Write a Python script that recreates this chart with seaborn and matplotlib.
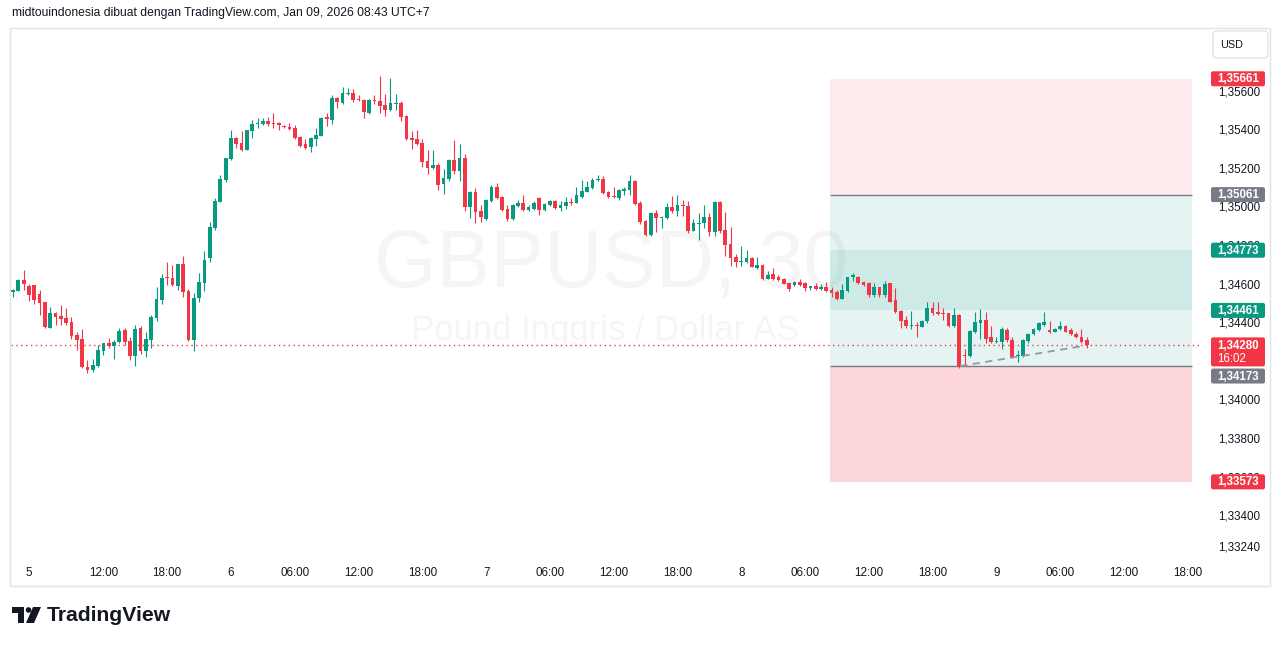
import matplotlib
matplotlib.use("Agg")
import matplotlib.pyplot as plt
import seaborn as sns
import numpy as np
import pandas as pd
from matplotlib.patches import Rectangle, FancyBboxPatch, Polygon, Circle

# GBPUSD 30 menit (open/high/low/close)
opens = [
    1.34559, 1.34564, 1.34619, 1.34588, 1.34593, 1.34546, 1.34505, 1.34370, 1.34449, 1.34432,
    1.34422, 1.34401, 1.34334, 1.34313, 1.34169, 1.34152, 1.34173, 1.34251, 1.34292, 1.34277,
    1.34298, 1.34360, 1.34303, 1.34225, 1.34370, 1.34251, 1.34308, 1.34422, 1.34515, 1.34634,
    1.34629, 1.34588, 1.34702, 1.34562, 1.34308, 1.34525, 1.34605, 1.34733, 1.34890, 1.35024,
    1.35138, 1.35244, 1.35354, 1.35328, 1.35292, 1.35392, 1.35428, 1.35427, 1.35442, 1.35433,
    1.35433, 1.35416, 1.35411, 1.35406, 1.35359, 1.35323, 1.35307, 1.35349, 1.35365, 1.35463,
    1.35447, 1.35561, 1.35535, 1.35581, 1.35587, 1.35556, 1.35551, 1.35484, 1.35551, 1.35546,
    1.35525, 1.35499, 1.35530, 1.35535, 1.35468, 1.35354, 1.35349, 1.35328, 1.35235, 1.35199,
    1.35214, 1.35116, 1.35142, 1.35240, 1.35183, 1.35250, 1.34997, 1.35075, 1.34976, 1.34935,
    1.35028, 1.35100, 1.35049, 1.34986, 1.34935, 1.35002, 1.35018, 1.34981, 1.34986, 1.35043,
    1.34981, 1.35007, 1.35028, 1.34992, 1.35002, 1.35023, 1.35018, 1.35049, 1.35075, 1.35095,
    1.35137, 1.35142, 1.35075, 1.35054, 1.35043, 1.35080, 1.35085, 1.35132, 1.35018, 1.34924,
    1.34852, 1.34967, 1.34941, 1.34941, 1.34997, 1.34977, 1.35008, 1.35002, 1.34873, 1.34910,
    1.34916, 1.34946, 1.34868, 1.35023, 1.34878, 1.34805, 1.34738, 1.34714, 1.34712, 1.34733,
    1.34681, 1.34696, 1.34625, 1.34649, 1.34634, 1.34624, 1.34603, 1.34594, 1.34608, 1.34603,
    1.34579, 1.34588, 1.34574, 1.34582, 1.34569, 1.34557, 1.34521, 1.34562, 1.34633, 1.34633,
    1.34607, 1.34605, 1.34543, 1.34581, 1.34543, 1.34602, 1.34515, 1.34459, 1.34411, 1.34380,
    1.34385, 1.34377, 1.34406, 1.34474, 1.34455, 1.34446, 1.34446, 1.34382, 1.34437, 1.34228,
    1.34225, 1.34351, 1.34398, 1.34411, 1.34322, 1.34299, 1.34299, 1.34360, 1.34308, 1.34225,
    1.34225, 1.34303, 1.34338, 1.34360, 1.34385, 1.34360, 1.34351, 1.34365, 1.34380, 1.34360,
    1.34339, 1.34322, 1.34308,
]
highs = [
    1.34572, 1.34624, 1.34670, 1.34598, 1.34593, 1.34567, 1.34505, 1.34477, 1.34455, 1.34489,
    1.34472, 1.34425, 1.34351, 1.34365, 1.34204, 1.34209, 1.34282, 1.34294, 1.34318, 1.34308,
    1.34369, 1.34370, 1.34324, 1.34385, 1.34380, 1.34349, 1.34437, 1.34582, 1.34650, 1.34712,
    1.34696, 1.34702, 1.34743, 1.34572, 1.34551, 1.34655, 1.34769, 1.34919, 1.35045, 1.35163,
    1.35250, 1.35396, 1.35359, 1.35391, 1.35398, 1.35447, 1.35458, 1.35458, 1.35463, 1.35484,
    1.35438, 1.35422, 1.35432, 1.35422, 1.35362, 1.35349, 1.35357, 1.35406, 1.35463, 1.35484,
    1.35577, 1.35566, 1.35618, 1.35613, 1.35608, 1.35577, 1.35556, 1.35554, 1.35577, 1.35676,
    1.35582, 1.35665, 1.35582, 1.35546, 1.35471, 1.35391, 1.35396, 1.35349, 1.35292, 1.35292,
    1.35225, 1.35194, 1.35243, 1.35344, 1.35323, 1.35271, 1.35078, 1.35095, 1.35007, 1.35036,
    1.35111, 1.35121, 1.35052, 1.35007, 1.35010, 1.35033, 1.35059, 1.35007, 1.35028, 1.35049,
    1.35015, 1.35033, 1.35031, 1.35028, 1.35049, 1.35043, 1.35100, 1.35137, 1.35132, 1.35147,
    1.35163, 1.35158, 1.35078, 1.35100, 1.35090, 1.35100, 1.35163, 1.35135, 1.35028, 1.34927,
    1.34972, 1.34981, 1.34950, 1.35018, 1.35054, 1.35059, 1.35033, 1.35029, 1.34936, 1.34967,
    1.35008, 1.34967, 1.35026, 1.35026, 1.34972, 1.34895, 1.34753, 1.34795, 1.34774, 1.34736,
    1.34738, 1.34699, 1.34666, 1.34681, 1.34644, 1.34629, 1.34606, 1.34611, 1.34624, 1.34606,
    1.34590, 1.34603, 1.34598, 1.34608, 1.34581, 1.34569, 1.34598, 1.34634, 1.34653, 1.34637,
    1.34615, 1.34610, 1.34602, 1.34584, 1.34615, 1.34605, 1.34576, 1.34462, 1.34432, 1.34458,
    1.34402, 1.34409, 1.34506, 1.34506, 1.34506, 1.34472, 1.34449, 1.34474, 1.34440, 1.34261,
    1.34359, 1.34455, 1.34467, 1.34455, 1.34380, 1.34325, 1.34377, 1.34369, 1.34325, 1.34256,
    1.34311, 1.34343, 1.34369, 1.34399, 1.34455, 1.34406, 1.34368, 1.34407, 1.34384, 1.34369,
    1.34351, 1.34363, 1.34322,
]
lows = [
    1.34533, 1.34562, 1.34567, 1.34511, 1.34494, 1.34437, 1.34370, 1.34370, 1.34385, 1.34385,
    1.34385, 1.34312, 1.34256, 1.34164, 1.34138, 1.34143, 1.34169, 1.34230, 1.34268, 1.34209,
    1.34291, 1.34282, 1.34204, 1.34173, 1.34235, 1.34220, 1.34268, 1.34406, 1.34494, 1.34593,
    1.34590, 1.34567, 1.34532, 1.34305, 1.34252, 1.34505, 1.34562, 1.34712, 1.34879, 1.35024,
    1.35128, 1.35240, 1.35304, 1.35287, 1.35290, 1.35354, 1.35406, 1.35424, 1.35416, 1.35406,
    1.35396, 1.35406, 1.35398, 1.35350, 1.35310, 1.35299, 1.35282, 1.35313, 1.35362, 1.35416,
    1.35427, 1.35510, 1.35532, 1.35577, 1.35541, 1.35546, 1.35458, 1.35481, 1.35530, 1.35484,
    1.35468, 1.35496, 1.35499, 1.35442, 1.35346, 1.35297, 1.35318, 1.35204, 1.35168, 1.35196,
    1.35085, 1.35064, 1.35132, 1.35168, 1.35132, 1.34976, 1.34940, 1.34914, 1.34919, 1.34929,
    1.35023, 1.35038, 1.34978, 1.34924, 1.34929, 1.34997, 1.34978, 1.34976, 1.34983, 1.34955,
    1.34978, 1.35004, 1.34989, 1.34976, 1.34986, 1.35007, 1.35015, 1.35046, 1.35072, 1.35092,
    1.35134, 1.35066, 1.35043, 1.35043, 1.35033, 1.35059, 1.35059, 1.35009, 1.34909, 1.34849,
    1.34849, 1.34868, 1.34889, 1.34936, 1.34967, 1.34951, 1.34951, 1.34860, 1.34870, 1.34824,
    1.34889, 1.34848, 1.34848, 1.34863, 1.34744, 1.34692, 1.34687, 1.34692, 1.34709, 1.34684,
    1.34678, 1.34620, 1.34622, 1.34620, 1.34615, 1.34597, 1.34563, 1.34589, 1.34589, 1.34563,
    1.34569, 1.34569, 1.34569, 1.34557, 1.34532, 1.34516, 1.34518, 1.34559, 1.34615, 1.34599,
    1.34589, 1.34532, 1.34532, 1.34532, 1.34532, 1.34503, 1.34447, 1.34371, 1.34371, 1.34363,
    1.34325, 1.34375, 1.34394, 1.34437, 1.34437, 1.34411, 1.34377, 1.34377, 1.34161, 1.34173,
    1.34220, 1.34346, 1.34312, 1.34291, 1.34294, 1.34294, 1.34260, 1.34298, 1.34217, 1.34195,
    1.34222, 1.34294, 1.34334, 1.34355, 1.34382, 1.34346, 1.34348, 1.34362, 1.34348, 1.34334,
    1.34317, 1.34291, 1.34269,
]
closes = [
    1.34567, 1.34619, 1.34600, 1.34541, 1.34515, 1.34501, 1.34374, 1.34448, 1.34428, 1.34416,
    1.34396, 1.34329, 1.34308, 1.34166, 1.34152, 1.34178, 1.34256, 1.34291, 1.34277, 1.34296,
    1.34355, 1.34299, 1.34225, 1.34365, 1.34251, 1.34313, 1.34427, 1.34520, 1.34629, 1.34629,
    1.34593, 1.34702, 1.34557, 1.34308, 1.34525, 1.34608, 1.34722, 1.34895, 1.35028, 1.35142,
    1.35250, 1.35354, 1.35325, 1.35292, 1.35396, 1.35427, 1.35433, 1.35442, 1.35427, 1.35428,
    1.35422, 1.35411, 1.35401, 1.35354, 1.35313, 1.35302, 1.35354, 1.35370, 1.35458, 1.35453,
    1.35561, 1.35541, 1.35587, 1.35587, 1.35551, 1.35551, 1.35489, 1.35551, 1.35546, 1.35520,
    1.35499, 1.35535, 1.35535, 1.35463, 1.35349, 1.35344, 1.35323, 1.35230, 1.35199, 1.35214,
    1.35111, 1.35147, 1.35240, 1.35183, 1.35250, 1.34997, 1.35075, 1.34971, 1.34945, 1.35033,
    1.35100, 1.35043, 1.34981, 1.34935, 1.35007, 1.35018, 1.34981, 1.34997, 1.35018, 1.34981,
    1.35012, 1.35028, 1.34992, 1.35007, 1.35023, 1.35018, 1.35059, 1.35080, 1.35100, 1.35137,
    1.35142, 1.35069, 1.35049, 1.35049, 1.35085, 1.35090, 1.35132, 1.35012, 1.34919, 1.34852,
    1.34967, 1.34941, 1.34946, 1.34997, 1.34977, 1.35007, 1.35003, 1.34873, 1.34916, 1.34916,
    1.34946, 1.34868, 1.35023, 1.34873, 1.34802, 1.34733, 1.34712, 1.34719, 1.34733, 1.34687,
    1.34696, 1.34625, 1.34644, 1.34625, 1.34619, 1.34600, 1.34574, 1.34608, 1.34594, 1.34579,
    1.34588, 1.34574, 1.34584, 1.34563, 1.34553, 1.34521, 1.34569, 1.34633, 1.34644, 1.34602,
    1.34594, 1.34543, 1.34581, 1.34543, 1.34596, 1.34506, 1.34452, 1.34407, 1.34382, 1.34385,
    1.34380, 1.34406, 1.34474, 1.34446, 1.34441, 1.34441, 1.34382, 1.34437, 1.34173, 1.34223,
    1.34356, 1.34403, 1.34411, 1.34313, 1.34296, 1.34304, 1.34363, 1.34308, 1.34220, 1.34230,
    1.34308, 1.34339, 1.34365, 1.34394, 1.34401, 1.34351, 1.34365, 1.34380, 1.34351, 1.34338,
    1.34322, 1.34296, 1.34280,
]

# label waktu (indeks bar 30 menit)
time_tick_pos = [3, 17, 29, 41, 53, 65, 77, 89, 101, 113, 125, 137, 149, 161, 173, 185, 197, 209, 221]
time_tick_labels = ["5", "12:00", "18:00", "6", "06:00", "12:00", "18:00", "7", "06:00", "12:00",
                    "18:00", "8", "06:00", "12:00", "18:00", "9", "06:00", "12:00", "18:00"]
price_ticks = [1.3324, 1.334, 1.336, 1.338, 1.340, 1.344, 1.346, 1.348, 1.350, 1.352, 1.354, 1.356]

# dua alat posisi (short di atas, long di bawah)
short_entry, short_stop, short_target = 1.35061, 1.35661, 1.34461
long_entry, long_stop, long_target = 1.34173, 1.33573, 1.34773
tool_start, tool_end = 153.7, 221.8
last_price = 1.34280
countdown = "16:02"
trend_x = [178.2, 201.4]
trend_y = [1.34173, 1.34277]

df = pd.DataFrame({"open": opens, "high": highs, "low": lows, "close": closes})
df["i"] = np.arange(len(df))
df["up"] = df["close"] >= df["open"]

GREEN = "#089981"
RED = "#f23645"
GRAY = "#787b86"
TXT = "#131722"

sns.set_theme(style="white")
plt.rcParams["font.family"] = ["Liberation Sans", "DejaVu Sans"]

W, H = 1281, 646
fig = plt.figure(figsize=(W / 100, H / 100), dpi=100)
fig.patch.set_facecolor("white")
PL, PR, PT, PB = 11, 1200, 28, 556
ax = fig.add_axes([PL / W, 1 - PB / H, (PR - PL) / W, (PB - PT) / H])
YMIN, YMAX = 1.33189, 1.35924
ax.set_xlim(-0.38, 223.3)
ax.set_ylim(YMIN, YMAX)
ax.set_facecolor("white")

# watermark
ax.text(0.505, 0.551, "GBPUSD, 30", transform=ax.transAxes, ha="center", va="center",
        fontsize=58, color=(0, 0, 0, 0.04), zorder=0.5)
ax.text(0.5, 0.428, "Pound Inggris / Dollar AS", transform=ax.transAxes, ha="center", va="center",
        fontsize=25, color=(0, 0, 0, 0.04), zorder=0.5)

# zona posisi
w = tool_end - tool_start
ax.add_patch(Rectangle((tool_start, short_entry), w, short_stop - short_entry, fc=RED, alpha=0.1, lw=0, zorder=1))
ax.add_patch(Rectangle((tool_start, short_target), w, short_entry - short_target, fc=GREEN, alpha=0.1, lw=0, zorder=1))
ax.add_patch(Rectangle((tool_start, long_stop), w, long_entry - long_stop, fc=RED, alpha=0.2, lw=0, zorder=1))
ax.add_patch(Rectangle((tool_start, long_entry), w, long_target - long_entry, fc=GREEN, alpha=0.1, lw=0, zorder=1))
ax.hlines([short_entry, long_entry], tool_start, tool_end, color=GRAY, lw=1, zorder=2)

# harga terakhir
ax.axhline(last_price, color=RED, lw=1, ls=(0, (1, 2.5)), zorder=2)

# candle
colors = np.where(df["up"], GREEN, RED)
ax.vlines(df["i"], df["low"], df["high"], colors=colors, lw=0.8, zorder=3)
body_lo = np.minimum(df["open"], df["close"])
body_h = np.maximum((df["close"] - df["open"]).abs(), 0.00003)
ax.bar(df["i"], body_h, bottom=body_lo, width=0.7, color=colors, linewidth=0, zorder=4)

ax.plot(trend_x, trend_y, color="#9598a1", lw=1.3, ls=(0, (4, 3)), zorder=5)

ax.set_xticks(time_tick_pos, time_tick_labels)
ax.tick_params(axis="x", length=0, pad=8, labelsize=8.4, labelcolor=TXT)
ax.yaxis.tick_right()
ax.set_yticks(price_ticks, [f"{p:.5f}".replace(".", ",") for p in price_ticks])
ax.tick_params(axis="y", length=0, pad=13, labelsize=8.4, labelcolor=TXT)
ax.grid(False)
for s in ax.spines.values():
    s.set_visible(False)

# lapisan piksel untuk label dan bingkai
ov = fig.add_axes([0, 0, 1, 1], zorder=10)
ov.set_xlim(0, W)
ov.set_ylim(H, 0)
ov.axis("off")
ov.patch.set_alpha(0)


def py(p):
    return PT + (YMAX - p) / (YMAX - YMIN) * (PB - PT)


def fmt(p):
    return f"{p:.5f}".replace(".", ",")


def tag(p, color, dy=0):
    y = py(p) + dy
    ov.add_patch(FancyBboxPatch((1211, y - 7.5), 54, 15, boxstyle="round,pad=0,rounding_size=2",
                                fc=color, ec="none"))
    ov.text(1238, y + 0.5, fmt(p), color="white", fontsize=8.3, fontweight="bold", ha="center", va="center")


tag(short_stop, RED)
tag(short_entry, GRAY)
tag(long_target, GREEN)
tag(short_target, GREEN)
tag(long_stop, RED)
tag(long_entry, GRAY, dy=10)
yl = py(last_price)
ov.add_patch(FancyBboxPatch((1211, yl - 8), 54, 29, boxstyle="round,pad=0,rounding_size=2", fc=RED, ec="none"))
ov.text(1238, yl + 0.5, fmt(last_price), color="white", fontsize=8.3, fontweight="bold", ha="center", va="center")
ov.text(1232, yl + 14, countdown, color="white", fontsize=8.3, ha="center", va="center")

# bingkai
ov.add_patch(Rectangle((10, 28), 1260, 558, fill=False, ec="#e0e3eb", lw=1))
ov.add_patch(FancyBboxPatch((1213, 31), 55, 27, boxstyle="round,pad=0,rounding_size=4", fc="white", ec="#e0e3eb", lw=1))
ov.text(1232, 45, "USD", fontsize=7.8, color=TXT, ha="center", va="center")

ov.text(12, 13, "midtouindonesia dibuat dengan TradingView.com, Jan 09, 2026 08:43 UTC+7",
        fontsize=8.7, color=TXT, ha="left", va="center")

# logo
ov.add_patch(Polygon([(12, 607), (24, 607), (24, 623), (18, 623), (18, 613), (12, 613)], closed=True, fc=TXT, ec="none"))
ov.add_patch(Circle((28.5, 610), 2.8, fc=TXT, ec="none"))
ov.add_patch(Polygon([(33, 607), (41, 607), (34, 623), (26, 623)], closed=True, fc=TXT, ec="none"))
ov.text(47, 615.5, "TradingView", fontsize=15.2, fontweight="bold", color=TXT, ha="left", va="center")

fig.savefig("out.png", dpi=100)
